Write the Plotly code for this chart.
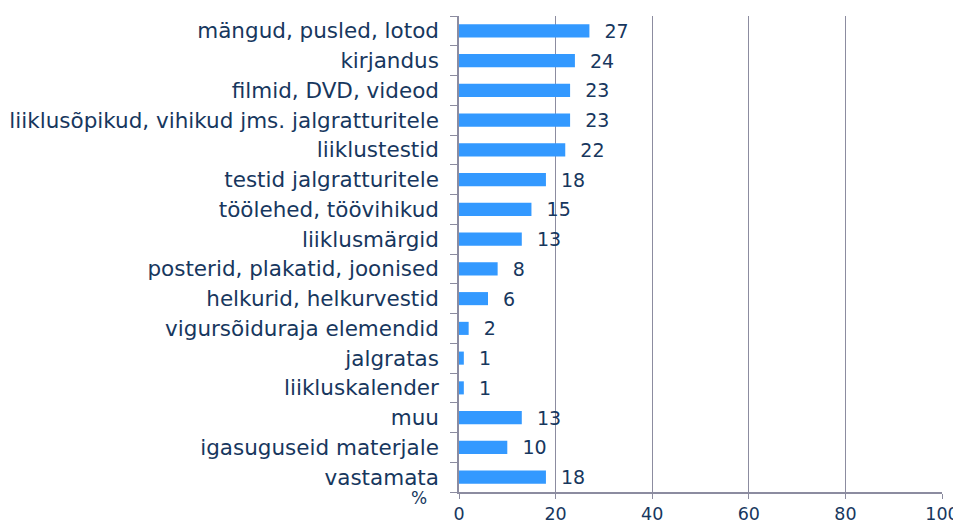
import plotly.graph_objects as go

categories = [
    "mängud, pusled, lotod",
    "kirjandus",
    "filmid, DVD, videod",
    "liiklusõpikud, vihikud jms. jalgratturitele",
    "liiklustestid",
    "testid jalgratturitele",
    "töölehed, töövihikud",
    "liiklusmärgid",
    "posterid, plakatid, joonised",
    "helkurid, helkurvestid",
    "vigursõiduraja elemendid",
    "jalgratas",
    "liikluskalender",
    "muu",
    "igasuguseid materjale",
    "vastamata",
]
values = [27, 24, 23, 23, 22, 18, 15, 13, 8, 6, 2, 1, 1, 13, 10, 18]
x_ticks = [0, 20, 40, 60, 80, 100]

text_color = "#17375E"
grid_color = "#8C8CA0"
font = "DejaVu Sans, Verdana, sans-serif"

# page body has an 8px default margin; figure is sized to fit the 961x522 window
W, H = 953, 514
plot_left, plot_right, plot_top, plot_bottom = 451, 934, 8, 484

fig = go.Figure(go.Bar(
    y=categories,
    x=values,
    orientation="h",
    marker=dict(color="#3399FF", line=dict(width=0)),
    text=["  " + str(v) for v in values],
    textposition="outside",
    constraintext="none",
    textfont=dict(family=font, size=19, color=text_color),
    cliponaxis=False,
))

fig.update_layout(
    width=W, height=H,
    margin=dict(l=plot_left, r=W - plot_right, t=plot_top, b=H - plot_bottom, autoexpand=False),
    paper_bgcolor="white", plot_bgcolor="white",
    bargap=0.56,
    showlegend=False,
    font=dict(family=font, size=21.5, color=text_color),
)
fig.update_xaxes(
    range=[0, 100], tickvals=x_ticks, ticktext=[str(t) for t in x_ticks],
    showgrid=True, gridcolor=grid_color, gridwidth=1.3,
    showline=True, linecolor=grid_color, linewidth=1.5,
    ticks="outside", ticklen=5, tickcolor=grid_color,
    tickfont=dict(family=font, size=17.5, color=text_color),
    ticklabelstandoff=0,
    zeroline=False, fixedrange=True, automargin=False,
)
fig.update_yaxes(
    categoryorder="array", categoryarray=categories[::-1],
    showgrid=False,
    showline=True, linecolor=grid_color, linewidth=1.5,
    ticks="outside", ticklen=7, tickcolor=grid_color, tickson="boundaries",
    tickfont=dict(family=font, size=21.5, color=text_color),
    ticklabelstandoff=14,
    fixedrange=True, automargin=False,
)
plot_w = plot_right - plot_left
plot_h = plot_bottom - plot_top
fig.add_annotation(
    text="%", xref="paper", yref="paper", x=(411 - plot_left) / plot_w, y=-(6 / plot_h),
    xanchor="center", yanchor="middle", showarrow=False,
    font=dict(family=font, size=17, color=text_color),
)
fig.write_html("out.html")
